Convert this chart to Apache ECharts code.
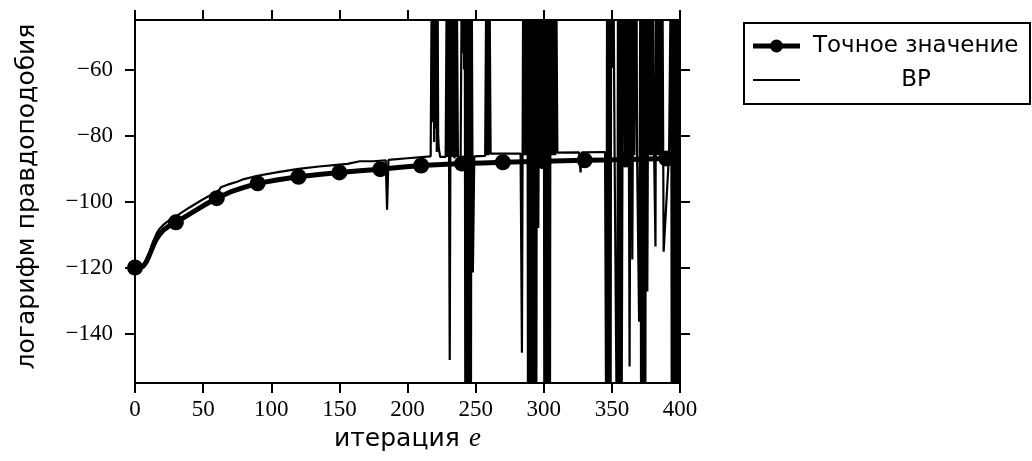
<!DOCTYPE html>
<html><head><meta charset="utf-8">
<script src="https://cdn.jsdelivr.net/npm/echarts@6/dist/echarts.min.js"></script>
<style>html,body{margin:0;padding:0;background:#fff}#c{width:1032px;height:461px}</style>
</head><body><div id="c"></div>
<script>
const seriesNames = ['Точное значение', 'BP'];
const xTitle = 'итерация';
const xTitleVar = 'e';
const yTitle = 'логарифм правдоподобия';
const xTicks = [0, 50, 100, 150, 200, 250, 300, 350, 400];
const yTicks = [-140, -120, -100, -80, -60];

const exactIter = [0, 4, 6, 8, 10, 12, 14, 16, 18, 21, 25, 30, 40, 50, 60, 70, 80, 90, 105, 120, 135, 150, 165, 180, 195, 210, 225, 240, 255, 270, 285, 300, 315, 330, 345, 360, 375, 390, 400];
const exactVal = [-120, -120, -119.6, -118.5, -116.8, -114.8, -112.8, -111.2, -110, -108.6, -107.4, -106.3, -103.8, -101.3, -99, -97.1, -95.7, -94.5, -93.4, -92.5, -91.8, -91.2, -90.7, -90.2, -89.6, -89.1, -88.8, -88.5, -88.3, -88.1, -87.95, -87.8, -87.65, -87.5, -87.4, -87.3, -87.15, -87.0, -86.9];
const markerIter = [0, 30, 60, 90, 120, 150, 180, 210, 240, 270, 300, 330, 360, 390];

const bpIter = [0, 4, 6, 8, 10, 12, 14, 16, 18, 21, 25, 30, 40, 50, 60, 62, 63, 68, 69, 75, 80, 90, 105, 120, 135, 150, 156, 157, 165, 166, 175, 184, 185, 186, 200, 217,
  218, 218.5, 219, 219.5, 220, 220.5, 221, 221.5, 222, 222.5, 223, 224, 228, 229, 229.5, 230, 230.5, 231, 232, 232.5, 233, 233.5, 234, 234.5, 235, 235.5, 236, 237, 239,
  240, 240.5, 241, 241.5, 242, 242.5, 243, 243.5, 244, 244.5, 245, 245.5, 246, 246.5, 247, 248, 249, 257, 258, 258.5, 259, 259.5, 260, 261, 283,
  284, 285, 285.5, 286, 287, 288, 288.5, 289, 289.5, 290, 290.5, 291, 291.5, 292, 292.5, 293, 293.5, 294, 294.5, 295, 296, 297, 297.5, 298, 298.5, 299, 299.5, 300, 300.5, 301, 301.5, 302, 302.5, 303, 303.5, 304, 304.5, 305, 305.5, 306, 306.5, 307, 307.5, 308, 308.5, 309, 310, 326, 327, 328, 345,
  346, 346.5, 347, 347.5, 348, 348.5, 349, 349.5, 350, 351, 352, 353, 354, 354.5, 355, 355.5, 356, 356.5, 357, 358, 359, 359.5, 360, 360.5, 361, 361.5, 362, 363, 364, 365, 366, 366.5, 367, 368, 368.5, 369, 370, 371, 371.5, 372, 372.5, 373, 373.5, 374, 374.5, 375, 376, 377, 377.5, 378, 378.5, 379, 379.5, 380,
  381, 382, 382.5, 383, 383.5, 384, 384.5, 385, 385.5, 386, 387, 388, 392, 393, 393.5, 394, 394.5, 395, 395.5, 396, 396.5, 397, 397.5, 398, 398.5, 399, 399.5, 400];
const bpVal = [-120, -120, -119.6, -118.3, -116.2, -113.6, -111.4, -109.6, -108.3, -107, -105.7, -104.5, -101.8, -99.3, -97, -96.4, -95.7, -94.9, -95.1, -94.0, -93.2, -92.2, -91.1, -90.1, -89.4, -88.8, -88.6, -88.0, -87.8, -88.2, -87.8, -87.5, -102.5, -87.4, -86.9, -86.3,
  -20, -76, -20, -82, -20, -78, -20, -85, -20, -80, -84, -86.5, -86.5, -20, -86.5, -20, -87, -148, -20, -86.5, -20, -86.5, -20, -87, -20, -86.5, -20, -86.5, -86.4,
  -20, -55, -20, -60, -20, -190, -20, -190, -20, -190, -20, -190, -20, -190, -20, -121.5, -86.3, -86.2, -20, -86, -20, -86, -20, -85.5, -85.5,
  -145.8, -20, -86, -20, -86, -20, -190, -20, -190, -20, -190, -20, -190, -20, -190, -20, -190, -20, -190, -20, -108, -20, -86, -20, -86, -20, -86, -20, -190, -20, -190, -20, -190, -20, -190, -20, -190, -20, -86, -20, -86, -20, -86, -20, -86, -20, -85.2, -85.1, -91.2, -85.1, -85,
  -190, -20, -190, -20, -190, -20, -190, -20, -59.5, -20, -85.5, -85.5, -190, -20, -190, -20, -190, -20, -190, -54, -20, -86, -20, -86, -20, -86, -20, -150, -20, -117.6, -20, -86, -65.5, -20, -86, -85.5, -136.4, -20, -190, -20, -190, -20, -190, -20, -190, -20, -127.3, -20, -86, -20, -86, -20, -86, -20, -85.5,
  -113.6, -20, -86, -20, -86, -20, -86, -20, -86, -20, -115.2, -85.3, -85.2, -20, -190, -20, -190, -20, -190, -20, -190, -20, -190, -20, -190, -20, -190, -20, -190];

const chart = echarts.init(document.getElementById('c'), null, {renderer: 'canvas'});
const minus = v => String(v).replace('-', '\u2212');
const black = '#000';
const axisLineStyle = {show: true, onZero: false, lineStyle: {color: black, width: 2}};
const tickStyle = (vals) => ({show: true, inside: false, length: 10, customValues: vals, lineStyle: {color: black, width: 2}});
const tickFont = {fontFamily: 'Liberation Serif', fontSize: 23, color: black};
const legendFont = '23px "DejaVu Sans"';

chart.setOption({
  animation: false,
  backgroundColor: '#fff',
  grid: {left: 135, top: 20, width: 545, height: 363},
  graphic: [
    {type: 'rect', left: 743, top: 22, z: 10,
      shape: {width: 286, height: 81}, style: {fill: '#fff', stroke: black, lineWidth: 2}},
    {type: 'line', z: 11, shape: {x1: 753, y1: 46, x2: 800, y2: 46}, style: {stroke: black, lineWidth: 5}},
    {type: 'circle', z: 12, shape: {cx: 776.5, cy: 46, r: 6.5}, style: {fill: black}},
    {type: 'text', z: 11, x: 813, y: 46, style: {text: seriesNames[0], font: legendFont, fill: black, textVerticalAlign: 'middle', textAlign: 'left'}},
    {type: 'line', z: 11, shape: {x1: 753, y1: 80, x2: 800, y2: 80}, style: {stroke: black, lineWidth: 2.2}},
    {type: 'text', z: 11, x: 916, y: 80, style: {text: seriesNames[1], font: legendFont, fill: black, textVerticalAlign: 'middle', textAlign: 'center'}}
  ],
  xAxis: [
    {type: 'value', position: 'bottom', min: 0, max: 400, interval: 50,
      axisLine: axisLineStyle, axisTick: tickStyle(xTicks),
      axisLabel: Object.assign({margin: 15, customValues: xTicks}, tickFont),
      splitLine: {show: false},
      name: '{a|' + xTitle + '} {b|' + xTitleVar + '}', nameLocation: 'middle', nameGap: 36,
      nameTextStyle: {color: black, rich: {
        a: {fontFamily: 'DejaVu Sans', fontSize: 25, color: black},
        b: {fontFamily: 'Liberation Serif', fontStyle: 'italic', fontSize: 27, color: black, padding: [0, 0, 0, 6]}}}},
    {type: 'value', position: 'top', min: 0, max: 400, interval: 50,
      axisLine: axisLineStyle, axisTick: tickStyle(xTicks),
      axisLabel: {show: false}, splitLine: {show: false}}
  ],
  yAxis: [
    {type: 'value', position: 'left', min: -155, max: -45,
      axisLine: axisLineStyle, axisTick: tickStyle(yTicks),
      axisLabel: Object.assign({margin: 22, customValues: yTicks, formatter: minus}, tickFont),
      splitLine: {show: false},
      name: yTitle, nameLocation: 'middle', nameGap: 95, nameRotate: 90,
      nameTextStyle: {fontFamily: 'DejaVu Sans', fontSize: 25, color: black, padding: [0, 0, 0, 10]}},
    {type: 'value', position: 'right', min: -155, max: -45,
      axisLine: axisLineStyle, axisTick: tickStyle(yTicks),
      axisLabel: {show: false}, splitLine: {show: false}}
  ],
  series: [
    {name: seriesNames[0], type: 'line', xAxisIndex: 0, yAxisIndex: 0,
      data: exactIter.map((x, i) => ({value: [x, exactVal[i]], symbol: markerIter.indexOf(x) >= 0 ? 'circle' : 'none'})),
      symbol: 'circle', symbolSize: 16, showSymbol: true,
      lineStyle: {color: black, width: 5}, itemStyle: {color: black, borderWidth: 0},
      clip: true, z: 2},
    {name: seriesNames[1], type: 'line', xAxisIndex: 0, yAxisIndex: 0,
      data: bpIter.map((x, i) => [x, bpVal[i]]),
      symbol: 'none', showSymbol: false,
      lineStyle: {color: black, width: 2.2}, itemStyle: {color: black},
      clip: true, z: 3}
  ]
});
</script>
</body></html>
